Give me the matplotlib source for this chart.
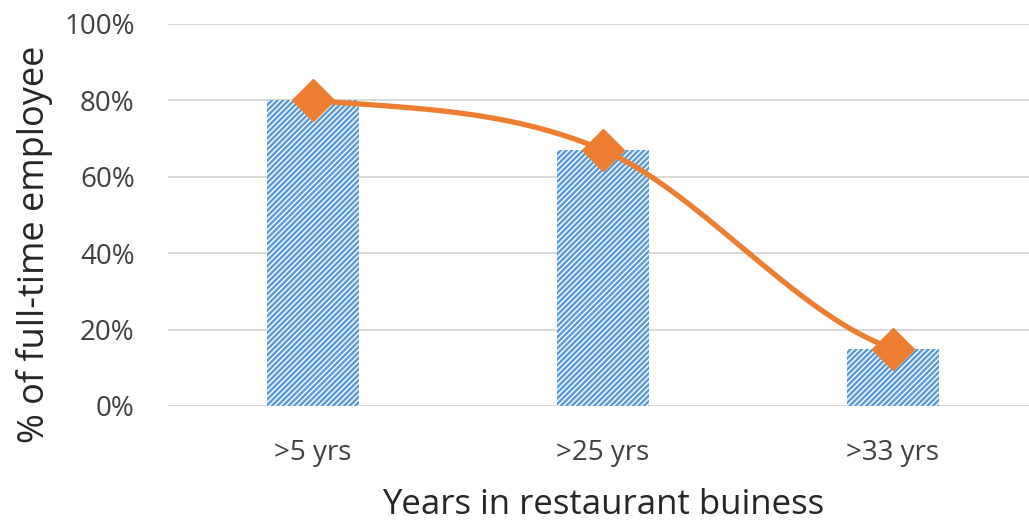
import numpy as np
import matplotlib
matplotlib.use("Agg")
import matplotlib.pyplot as plt

categories = [">5 yrs", ">25 yrs", ">33 yrs"]
values = [80, 67, 15]

blue = "#5B9BD5"
orange = "#ED7D31"

plt.rcParams['font.family'] = ['Open Sans', 'DejaVu Sans']
plt.rcParams['hatch.linewidth'] = 1.8
plt.rcParams['hatch.color'] = blue

fig = plt.figure(figsize=(10.29, 5.25), dpi=100)
ax = fig.add_axes([168 / 1029, 1 - 406 / 525, 870 / 1029, 382 / 525])

x = np.arange(len(categories))
ax.bar(x, values, width=0.314, color="white", edgecolor=blue, linewidth=0,
       hatch="//////", zorder=2)


# smoothed line similar to Excel (Catmull-Rom)
def catmull(px, py, n=60):
    px = np.concatenate([[2 * px[0] - px[1]], px, [2 * px[-1] - px[-2]]])
    py = np.concatenate([[py[0]], py, [py[-1]]])
    xs, ys = [], []
    for i in range(1, len(px) - 2):
        t = np.linspace(0, 1, n)
        for arr, out in ((px, xs), (py, ys)):
            p0, p1, p2, p3 = arr[i - 1], arr[i], arr[i + 1], arr[i + 2]
            out.extend(0.5 * ((2 * p1) + (-p0 + p2) * t
                              + (2 * p0 - 5 * p1 + 4 * p2 - p3) * t ** 2
                              + (-p0 + 3 * p1 - 3 * p2 + p3) * t ** 3))
    return np.array(xs), np.array(ys)


sx, sy = catmull(x.astype(float), np.array(values, dtype=float))
ax.plot(sx, sy, color=orange, linewidth=3.8, zorder=3, solid_capstyle="round")
ax.plot(x, values, linestyle="none", marker="D", markersize=21,
        color=orange, zorder=4)

ax.set_xlim(-0.5, 2.5)
ax.set_ylim(0, 100)
ax.set_yticks(range(0, 101, 20))
ax.set_yticklabels([f"{v}%" for v in range(0, 101, 20)])
ax.set_xticks(x)
ax.set_xticklabels(categories)
ax.tick_params(axis="both", length=0, labelsize=20, colors="#404040")
ax.tick_params(axis="x", pad=24)
ax.tick_params(axis="y", pad=24)
ax.grid(axis="y", color="#D9D9D9", linewidth=1.4, zorder=0)
for s in ax.spines.values():
    s.set_visible(False)
ax.set_axisbelow(True)

ax.set_xlabel("Years in restaurant buiness", fontsize=25, color="#262626", labelpad=15)
ax.set_ylabel("% of full-time employee", fontsize=26, color="#262626")
ax.yaxis.set_label_coords(-0.132, 0.424)

fig.savefig("out.png", dpi=100)
